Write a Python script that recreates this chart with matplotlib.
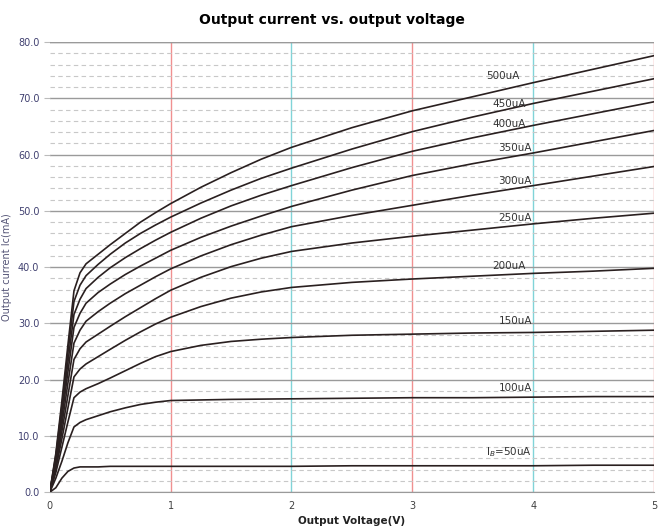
import numpy as np
import matplotlib.pyplot as plt
from matplotlib.ticker import MultipleLocator, FormatStrFormatter

# output voltage sample points (V)
vce = [0, 0.05, 0.1, 0.15, 0.2, 0.25, 0.3, 0.4, 0.5, 0.625, 0.75, 0.875, 1,
       1.25, 1.5, 1.75, 2, 2.5, 3, 3.5, 4, 4.5, 5]

# collector current (mA) per base current
ic_50 = [0, 0.8, 2.5, 3.7, 4.3, 4.5, 4.5, 4.5, 4.6, 4.6, 4.6, 4.6, 4.6,
         4.6, 4.6, 4.6, 4.6, 4.7, 4.7, 4.7, 4.7, 4.8, 4.8]
ic_100 = [0, 2.5, 5.5, 8.8, 11.6, 12.4, 12.9, 13.6, 14.3, 15.0, 15.6, 16.0, 16.3,
          16.4, 16.5, 16.55, 16.6, 16.7, 16.8, 16.8, 16.9, 17.0, 17.0]
ic_150 = [0, 3.5, 8.0, 12.5, 16.8, 17.8, 18.4, 19.3, 20.3, 21.6, 22.9, 24.1, 25.0,
          26.1, 26.8, 27.2, 27.5, 27.9, 28.1, 28.3, 28.4, 28.6, 28.8]
ic_200 = [0, 4.2, 9.5, 15.0, 20.5, 21.9, 22.8, 24.1, 25.4, 27.0, 28.5, 29.9, 31.1,
          33.0, 34.5, 35.6, 36.4, 37.3, 37.9, 38.4, 38.9, 39.3, 39.8]
ic_250 = [0, 4.7, 10.8, 17.2, 23.6, 25.5, 26.7, 28.1, 29.5, 31.2, 32.8, 34.4, 35.9,
          38.2, 40.1, 41.6, 42.8, 44.3, 45.5, 46.6, 47.7, 48.7, 49.6]
ic_300 = [0, 5.2, 12.0, 19.4, 26.5, 28.8, 30.4, 32.1, 33.6, 35.3, 36.8, 38.3, 39.7,
          42.0, 44.0, 45.7, 47.2, 49.2, 51.0, 52.8, 54.5, 56.2, 57.9]
ic_350 = [0, 5.7, 13.2, 21.4, 29.3, 31.8, 33.6, 35.5, 37.0, 38.7, 40.2, 41.6, 43.0,
          45.3, 47.3, 49.1, 50.8, 53.7, 56.3, 58.4, 60.3, 62.3, 64.3]
ic_400 = [0, 6.1, 14.3, 23.1, 31.6, 34.3, 36.2, 38.2, 39.9, 41.7, 43.3, 44.8, 46.2,
          48.7, 50.9, 52.8, 54.5, 57.7, 60.6, 63.0, 65.2, 67.3, 69.4]
ic_450 = [0, 6.6, 15.3, 24.8, 33.9, 36.8, 38.5, 40.5, 42.3, 44.3, 46.0, 47.5, 48.9,
          51.4, 53.7, 55.8, 57.6, 61.0, 64.1, 66.7, 69.1, 71.3, 73.5]
ic_500 = [0, 6.9, 16.2, 26.2, 35.8, 39.0, 40.6, 42.3, 44.0, 46.0, 48.0, 49.7, 51.3,
          54.2, 56.8, 59.2, 61.3, 64.8, 67.8, 70.3, 72.8, 75.2, 77.6]

curves = [ic_50, ic_100, ic_150, ic_200, ic_250, ic_300, ic_350, ic_400, ic_450, ic_500]

# curve labels and where they sit
labels = ['I$_B$=50uA', '100uA', '150uA', '200uA', '250uA', '300uA', '350uA', '400uA', '450uA', '500uA']
label_x = [3.8, 3.85, 3.85, 3.8, 3.85, 3.85, 3.85, 3.8, 3.8, 3.75]
label_y = [7.1, 18.5, 30.4, 40.3, 48.8, 55.4, 61.1, 65.5, 69.0, 74.0]

fig = plt.figure(figsize=(6.64, 5.27), dpi=100)
ax = fig.add_axes([0.075, 0.066, 0.91, 0.854])

ax.set_xlim(0, 5)
ax.set_ylim(0, 80)

# grid: dashed minor every 2 mA, solid major every 10 mA
ax.yaxis.set_major_locator(MultipleLocator(10))
ax.yaxis.set_minor_locator(MultipleLocator(2))
ax.yaxis.set_major_formatter(FormatStrFormatter('%.1f'))
ax.xaxis.set_major_locator(MultipleLocator(1))
ax.grid(which='minor', axis='y', color='#c8c8c8', linestyle=(0, (4, 3)), linewidth=0.8)
ax.grid(which='major', axis='y', color='#9a9a9a', linestyle='-', linewidth=1.0)

vcolors = ['#f09090', '#80d4d8', '#f09090', '#80d4d8', '#f09090']
for xv, c in zip([1, 2, 3, 4, 5], vcolors):
    ax.axvline(xv, color=c, linewidth=1.0, zorder=1)

for ic in curves:
    ax.plot(vce, ic, color='#2a2020', linewidth=1.2, zorder=3)

for t, lx, ly in zip(labels, label_x, label_y):
    ax.text(lx, ly, t, fontsize=7.5, color='#333333', ha='center', va='center', zorder=4)

for side in ['top', 'right', 'left']:
    ax.spines[side].set_visible(False)
ax.spines['bottom'].set_color('#9a9a9a')
ax.axhline(80, color='#9a9a9a', linewidth=1.0)

ax.tick_params(axis='y', which='major', length=4, color='#bbbbbb', labelsize=7, labelcolor='#404070')
ax.tick_params(axis='y', which='minor', length=0)
ax.tick_params(axis='x', length=0, labelsize=7, labelcolor='#404040', pad=6)

ax.set_xlabel('Output Voltage(V)', fontsize=7.5, fontweight='bold', color='#222222', labelpad=4)
ax.set_ylabel('Output current Ic(mA)', fontsize=7, color='#555577', labelpad=4)
fig.suptitle('Output current vs. output voltage', fontsize=10, fontweight='bold', y=0.975)

fig.savefig('out.png', dpi=100)
